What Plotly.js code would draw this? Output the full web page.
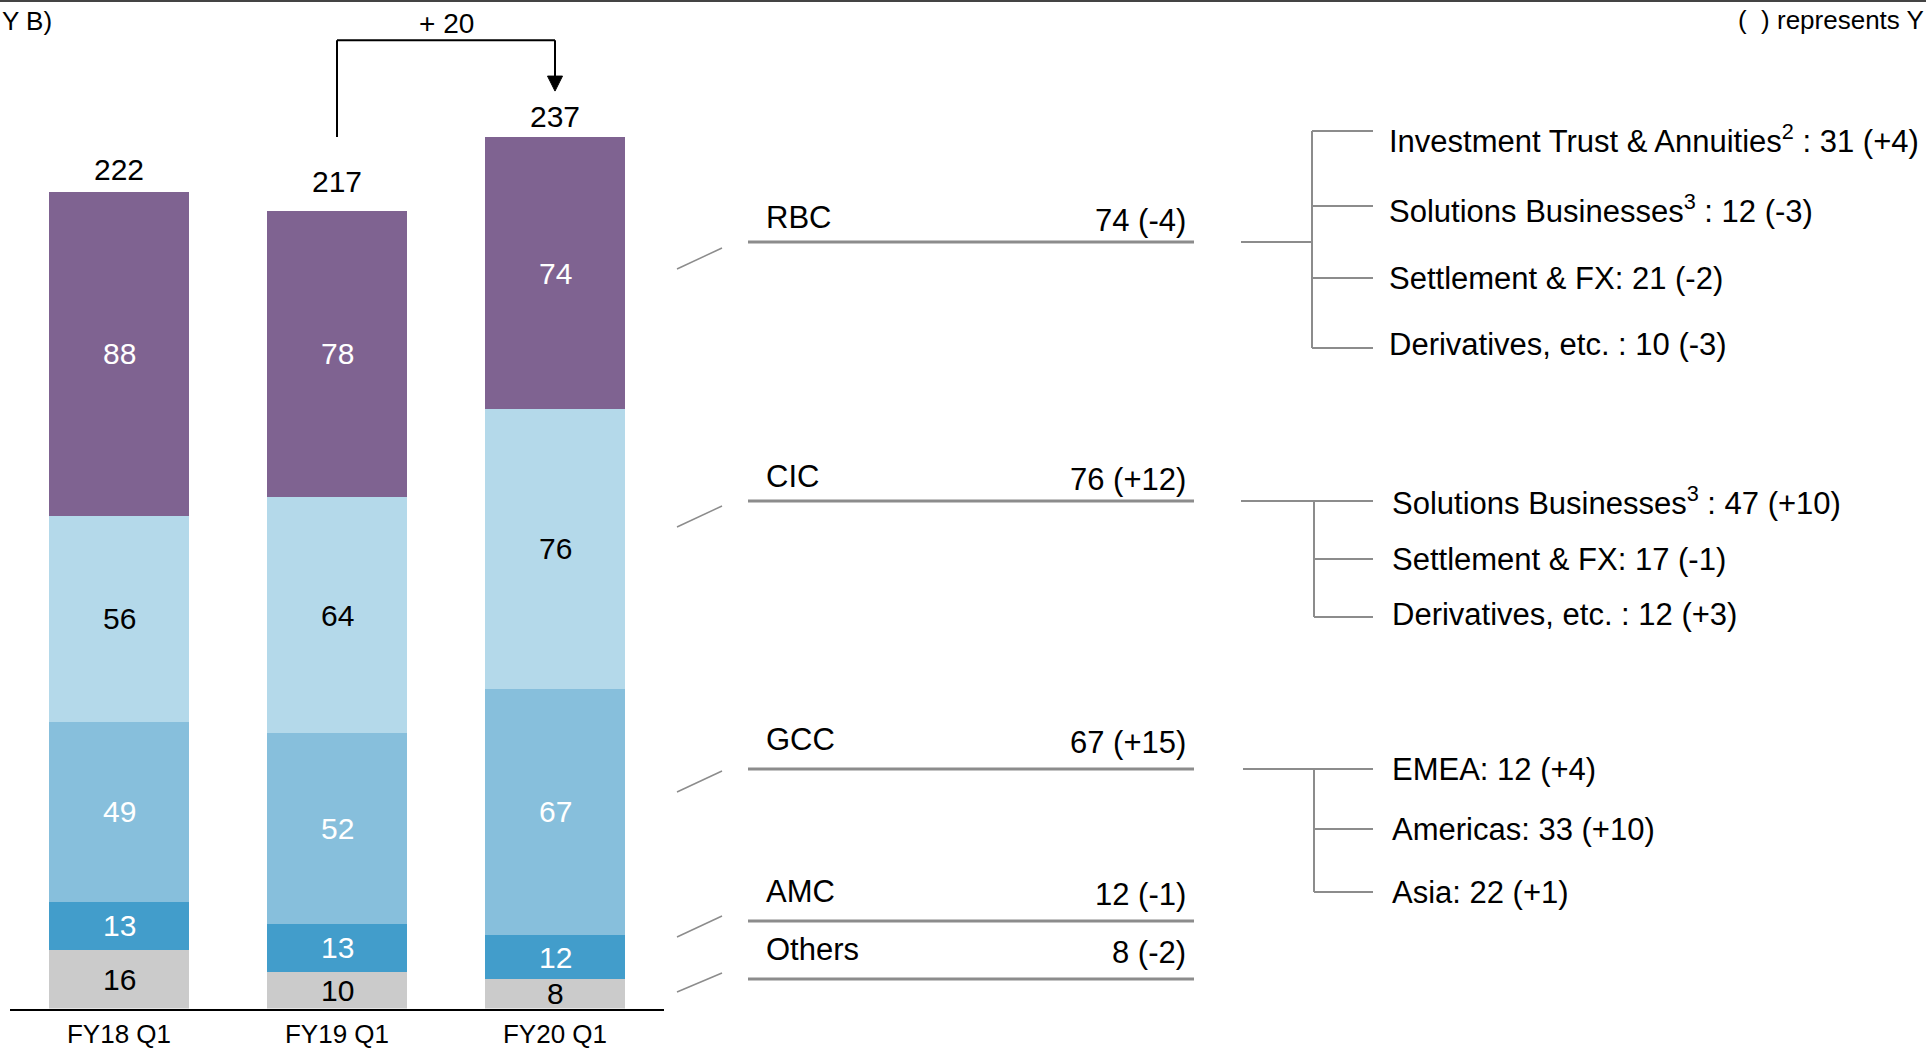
<!DOCTYPE html>
<html>
<head>
<meta charset="utf-8">
<script src="https://cdn.plot.ly/plotly-3.0.1.min.js"></script>
<style>
  html, body { margin: 0; padding: 0; background: #ffffff; }
  #chart { width: 1926px; height: 1049px; }
</style>
</head>
<body>
<div id="chart"></div>
<script>
// ---- data ----
const periods = ['FY18 Q1', 'FY19 Q1', 'FY20 Q1'];
const segmentNames = ['Others', 'AMC', 'GCC', 'CIC', 'RBC'];   // stacked bottom to top
const othersVals = [16, 10, 8];
const amcVals = [13, 13, 12];
const gccVals = [49, 52, 67];
const cicVals = [56, 64, 76];
const rbcVals = [88, 78, 74];

const rbcSubNames = ['Investment Trust & Annuities<sup>2</sup> ', 'Solutions Businesses<sup>3</sup> ', 'Settlement & FX', 'Derivatives, etc. '];
const rbcSubVals = [31, 12, 21, 10];
const rbcSubChg = [4, -3, -2, -3];

const cicSubNames = ['Solutions Businesses<sup>3</sup> ', 'Settlement & FX', 'Derivatives, etc. '];
const cicSubVals = [47, 17, 12];
const cicSubChg = [10, -1, 3];

const gccSubNames = ['EMEA', 'Americas', 'Asia'];
const gccSubVals = [12, 33, 22];
const gccSubChg = [4, 10, 1];

// ---- geometry helpers (page pixels -> paper fractions) ----
const W = 1926, H = 1049;
const px = v => v / W;
const py = v => 1 - v / H;
const FONT = '"Liberation Sans", Arial, sans-serif';

const seriesVals = [othersVals, amcVals, gccVals, cicVals, rbcVals];
const barColors = ['#cbcbcb', '#429dcb', '#87bfdc', '#b4d9ea', '#7f6391'];
const labelColors = ['#000000', '#ffffff', '#ffffff', '#000000', '#ffffff'];
const totalShift = [4, 11, 2];  // px lift of each total label above its bar

const xIdx = periods.map((_, i) => i);
const totals = xIdx.map(i => seriesVals.reduce((s, arr) => s + arr[i], 0));
const last = periods.length - 1;
const signed = v => (v > 0 ? '+' : '') + v;

const baseY = 1008.5;          // page y of the category axis
const unitPx = 3.677;          // pixels per value unit
const catPx = 218;             // pixels per category step

const traces = seriesVals.map((vals, k) => ({
  type: 'bar',
  name: segmentNames[k],
  x: xIdx,
  y: vals,
  width: 0.638,
  marker: { color: barColors[k], line: { width: 0 } },
  hoverinfo: 'skip',
  showlegend: false
}));

const annotations = [];
const shapes = [];
const note = (o) => annotations.push(Object.assign({ showarrow: false, xanchor: 'center', yanchor: 'middle' }, o));

// segment values inside the bars
xIdx.forEach(i => {
  let base = 0;
  seriesVals.forEach((vals, k) => {
    note({ x: i, y: base + vals[i] / 2, xref: 'x', yref: 'y',
      text: String(vals[i]), font: { family: FONT, size: 30, color: labelColors[k] } });
    base += vals[i];
  });
  // bar totals
  note({ x: i, y: totals[i], xref: 'x', yref: 'y', yanchor: 'bottom', yshift: totalShift[i],
    text: String(totals[i]), font: { family: FONT, size: 30, color: '#000' } });
});

// year-on-year bracket between the last two periods
const bracketTop = 263.3, arrowTip = 249.5;
const headLen = 15 / unitPx, headHalf = 7.5 / catPx;
shapes.push({ type: 'line', xref: 'x', yref: 'y', x0: 1, x1: 1, y0: totals[last], y1: bracketTop, line: { color: '#000', width: 2 } });
shapes.push({ type: 'line', xref: 'x', yref: 'y', x0: 1, x1: 2, y0: bracketTop, y1: bracketTop, line: { color: '#000', width: 2 } });
shapes.push({ type: 'line', xref: 'x', yref: 'y', x0: 2, x1: 2, y0: bracketTop, y1: arrowTip + headLen, line: { color: '#000', width: 2 } });
shapes.push({ type: 'path', xref: 'x', yref: 'y',
  path: `M ${2 - headHalf},${arrowTip + headLen} L ${2 + headHalf},${arrowTip + headLen} L 2,${arrowTip} Z`,
  fillcolor: '#000', line: { color: '#000', width: 1 } });
note({ x: 1.5, y: py(24), xref: 'x', yref: 'paper',
  text: '+ ' + (totals[last] - totals[last - 1]), font: { family: FONT, size: 28, color: '#000' } });

// header texts
note({ x: 0, y: py(21), xref: 'paper', yref: 'paper', xanchor: 'left',
  text: 'Y B)', font: { family: FONT, size: 26, color: '#000' } });
note({ x: 1, y: py(20), xref: 'paper', yref: 'paper', xanchor: 'right',
  text: '(\u00a0 ) represents Y', font: { family: FONT, size: 26, color: '#000' } });
shapes.push({ type: 'line', xref: 'paper', yref: 'paper', x0: 0, x1: 1, y0: py(1), y1: py(1), line: { color: '#444', width: 2 } });

// segment call-outs for the latest period (top to bottom)
const callouts = [
  { k: 4, lineY: 242, lift: 25, diag: [269, 248] },
  { k: 3, lineY: 501, lift: 25, diag: [527, 506] },
  { k: 2, lineY: 769, lift: 30, diag: [792, 771] },
  { k: 1, lineY: 921, lift: 30, diag: [937, 916] },
  { k: 0, lineY: 979, lift: 30, diag: [992, 973] }
];
const grey = '#8c8c8c';
callouts.forEach(c => {
  const vals = seriesVals[c.k];
  const chg = vals[last] - vals[last - 1];
  shapes.push({ type: 'line', xref: 'paper', yref: 'paper', x0: px(748), x1: px(1194), y0: py(c.lineY), y1: py(c.lineY), line: { color: grey, width: 3 } });
  shapes.push({ type: 'line', xref: 'paper', yref: 'paper', x0: px(677), x1: px(722), y0: py(c.diag[0]), y1: py(c.diag[1]), line: { color: grey, width: 1.5 } });
  note({ x: px(764), y: py(c.lineY - c.lift), xref: 'paper', yref: 'paper', xanchor: 'left',
    text: segmentNames[c.k], font: { family: FONT, size: 31, color: '#000' } });
  note({ x: px(1188), y: py(c.lineY - c.lift + 3), xref: 'paper', yref: 'paper', xanchor: 'right',
    text: vals[last] + ' (' + signed(chg) + ')', font: { family: FONT, size: 31, color: '#000' } });
});

// breakdown trees
const trees = [
  { rootY: 242, stubX0: 1241, trunkX: 1312, branchX1: 1373, textX: 1387,
    branchY: [131, 206, 278, 348], textY: [139, 209, 278, 345],
    names: rbcSubNames, vals: rbcSubVals, chg: rbcSubChg },
  { rootY: 501, stubX0: 1241, trunkX: 1314, branchX1: 1373, textX: 1390,
    branchY: [501, 559, 617], textY: [501, 559, 614],
    names: cicSubNames, vals: cicSubVals, chg: cicSubChg },
  { rootY: 769, stubX0: 1243, trunkX: 1314, branchX1: 1373, textX: 1390,
    branchY: [769, 829, 892], textY: [769, 829, 892],
    names: gccSubNames, vals: gccSubVals, chg: gccSubChg }
];
trees.forEach(t => {
  const ln = (x0, y0, x1, y1) => shapes.push({ type: 'line', xref: 'paper', yref: 'paper',
    x0: px(x0), x1: px(x1), y0: py(y0), y1: py(y1), line: { color: grey, width: 2 } });
  ln(t.stubX0, t.rootY, t.trunkX, t.rootY);
  ln(t.trunkX, Math.min(...t.branchY), t.trunkX, Math.max(...t.branchY));
  t.branchY.forEach((by, j) => {
    ln(t.trunkX, by, t.branchX1, by);
    note({ x: px(t.textX), y: py(t.textY[j]), xref: 'paper', yref: 'paper', xanchor: 'left',
      text: t.names[j] + ': ' + t.vals[j] + ' (' + signed(t.chg[j]) + ')',
      font: { family: FONT, size: 31, color: '#000' } });
  });
});

const layout = {
  width: W, height: H,
  margin: { l: 0, r: 0, t: 0, b: 0 },
  paper_bgcolor: '#ffffff', plot_bgcolor: '#ffffff',
  barmode: 'stack',
  bargap: 0,
  showlegend: false,
  font: { family: FONT, color: '#000' },
  xaxis: {
    domain: [px(10), px(664)],
    range: [-0.5, 2.5],
    tickvals: xIdx, ticktext: periods,
    showgrid: false, zeroline: false, ticks: '',
    showline: true, linecolor: '#000', linewidth: 2,
    tickfont: { family: FONT, size: 26, color: '#000' },
    ticklabelstandoff: 1,
    fixedrange: true
  },
  yaxis: {
    domain: [(H - baseY) / H, 1],
    range: [0, baseY / unitPx],
    visible: false,
    fixedrange: true
  },
  annotations: annotations,
  shapes: shapes
};

Plotly.newPlot('chart', traces, layout, { staticPlot: true, displayModeBar: false });
</script>
</body>
</html>
